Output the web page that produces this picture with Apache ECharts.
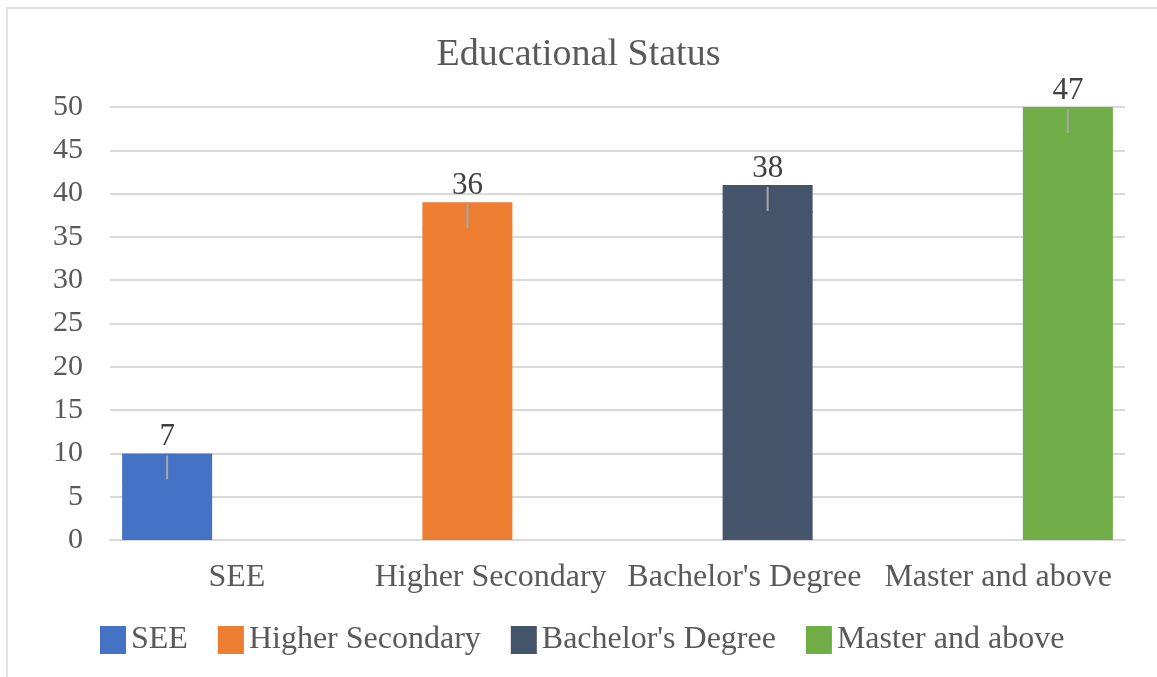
<!DOCTYPE html>
<html>
<head>
<meta charset="utf-8">
<title>Educational Status</title>
<script src="https://cdn.jsdelivr.net/npm/echarts@6/dist/echarts.min.js"></script>
<style>
  html, body { margin: 0; padding: 0; background: #ffffff; overflow: hidden; }
  #frame {
    position: absolute; left: 6px; top: 7px; width: 1200px; height: 720px;
    border-top: 2px solid #e2e2e2; border-left: 2px solid #e2e2e2;
  }
  #chart { position: absolute; left: 0; top: 0; width: 1157px; height: 677px; }
</style>
</head>
<body>
<div id="frame"></div>
<div id="chart"></div>
<script>
// Survey respondents by education level
const categories = ['SEE', 'Higher Secondary', "Bachelor's Degree", 'Master and above'];
const counts = [7, 36, 38, 47];
const margins = [3, 3, 3, 3];
const colors = ['#4472C4', '#ED7D31', '#44546A', '#70AD47'];
const yTicks = { min: 0, max: 50, interval: 5 };

const FONT = 'Liberation Serif';
const TEXT = '#595959';
const BAR_W = 90;
const BAR_STEP = 46.5;

const chart = echarts.init(document.getElementById('chart'), null, { renderer: 'canvas' });

// one value per series, placed in its own category slot
function only(i, v) {
  return categories.map((_, k) => (k === i ? v : '-'));
}

const barGap = ((BAR_STEP - BAR_W) / BAR_W * 100) + '%';
const series = categories.map((name, i) => ({
  name: name,
  type: 'bar',
  barWidth: BAR_W,
  barGap: barGap,
  itemStyle: { color: colors[i] },
  data: only(i, counts[i])
}));

// margin on top of each bar: a block in the bar's colour, a grey whisker
// from the count upwards, and the count written above it
series.push({
  name: 'margin',
  type: 'custom',
  z: 10,
  data: categories.map((_, i) => [i, counts[i], margins[i]]),
  renderItem: function (params, api) {
    const i = api.value(0);
    const lo = api.coord([i, api.value(1)]);
    const hi = api.coord([i, api.value(1) + api.value(2)]);
    const x = lo[0] + (i - (categories.length - 1) / 2) * BAR_STEP;
    return {
      type: 'group',
      children: [
        {
          type: 'rect',
          shape: { x: x - BAR_W / 2, y: hi[1], width: BAR_W, height: lo[1] - hi[1] + 1.5 },
          style: { fill: colors[i] }
        },
        {
          type: 'line',
          shape: { x1: x, y1: lo[1], x2: x, y2: hi[1] + 2 },
          style: { stroke: '#a6a6a6', lineWidth: 2 }
        },
        {
          type: 'text',
          x: x,
          y: hi[1] - 1,
          style: {
            text: String(counts[i]),
            fontFamily: FONT,
            fontSize: 31,
            fill: '#404040',
            align: 'center',
            verticalAlign: 'bottom'
          }
        }
      ]
    };
  }
});

chart.setOption({
  animation: false,
  backgroundColor: 'transparent',
  title: {
    text: 'Educational Status',
    left: 'center',
    top: 31,
    textStyle: { fontFamily: FONT, fontSize: 38, fontWeight: 'normal', color: TEXT }
  },
  legend: {
    data: categories,
    left: 95,
    top: 619,
    icon: 'rect',
    itemWidth: 26,
    itemHeight: 28,
    itemGap: 30,
    textStyle: { fontFamily: FONT, fontSize: 32, color: TEXT }
  },
  grid: { left: 110, right: 32, top: 107, bottom: 137, containLabel: false },
  xAxis: {
    type: 'category',
    data: categories,
    axisLine: { lineStyle: { color: '#d9d9d9', width: 2 } },
    axisTick: { show: false },
    axisLabel: { interval: 0, fontFamily: FONT, fontSize: 32, color: TEXT, margin: 22 }
  },
  yAxis: {
    type: 'value',
    min: yTicks.min,
    max: yTicks.max,
    interval: yTicks.interval,
    axisLine: { show: false },
    axisTick: { show: false },
    splitLine: { lineStyle: { color: '#d9d9d9', width: 2 } },
    axisLabel: { fontFamily: FONT, fontSize: 30, color: TEXT, margin: 27 }
  },
  series: series
});
</script>
</body>
</html>
